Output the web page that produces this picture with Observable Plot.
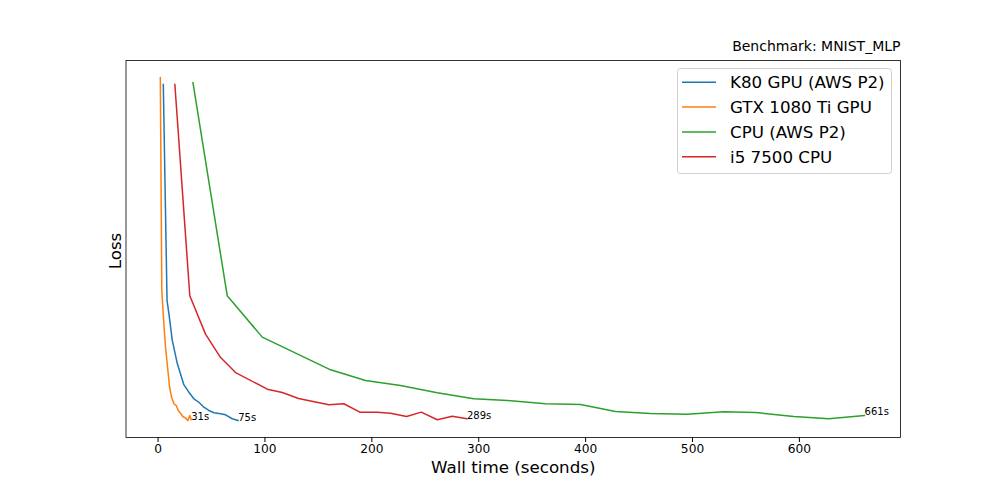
<!DOCTYPE html>
<html>
<head>
<meta charset="utf-8">
<script src="https://cdn.jsdelivr.net/npm/d3@7"></script>
<script src="https://cdn.jsdelivr.net/npm/@observablehq/plot@0.6"></script>
<style>
  html, body { margin: 0; padding: 0; background: #fff; }
  #wrap { position: relative; width: 1000px; height: 500px; font-family: "DejaVu Sans", sans-serif; }
  #legend { position: absolute; }
</style>
</head>
<body>
<div id="wrap"></div>
<script>
// ---- data ----
const title = "Benchmark: MNIST_MLP";
const xLabel = "Wall time (seconds)";
const yLabel = "Loss";
const seriesNames = ["K80 GPU (AWS P2)", "GTX 1080 Ti GPU", "CPU (AWS P2)", "i5 7500 CPU"];
const seriesColors = ["#1f77b4", "#ff7f0e", "#2ca02c", "#d62728"];
const endLabels = ["75s", "31s", "661s", "289s"];
const xTicks = [0, 100, 200, 300, 400, 500, 600];

const k80Time = [4.9, 8.4, 10.1, 13.3, 18.0, 24.1, 28.8, 33.5, 38.2, 42.8, 47.5, 52.2, 58.5, 63.1, 69.4, 75];
const k80Loss = [2.355, 0.913, 0.827, 0.647, 0.493, 0.352, 0.302, 0.258, 0.235, 0.202, 0.180, 0.165, 0.158, 0.151, 0.125, 0.113];

const gtxTime = [2.1, 3.5, 5.4, 7.0, 9.5, 10.8, 12.6, 14.8, 17.0, 18.9, 21.0, 23.2, 25.7, 27.9, 29.7, 31];
const gtxLoss = [2.400, 0.980, 0.760, 0.600, 0.425, 0.335, 0.269, 0.225, 0.213, 0.180, 0.162, 0.140, 0.129, 0.113, 0.147, 0.118];

const cpuTime = [32.6, 64.7, 97.5, 161.4, 194.1, 226.8, 261.2, 295.4, 326.7, 362.5, 395.2, 428.0, 460.7, 495.0, 529.3, 558.9, 594.8, 627.5, 661];
const cpuLoss = [2.367, 0.945, 0.669, 0.451, 0.380, 0.347, 0.298, 0.258, 0.247, 0.225, 0.220, 0.173, 0.160, 0.155, 0.171, 0.167, 0.140, 0.125, 0.147];

const i5Time = [15.7, 29.7, 44.4, 58.5, 72.5, 102.2, 116.2, 131.4, 159.8, 173.8, 188.8, 205.0, 217.5, 232.5, 246.2, 261.2, 275.2, 289];
const i5Loss = [2.355, 0.945, 0.689, 0.533, 0.433, 0.322, 0.300, 0.260, 0.218, 0.225, 0.169, 0.169, 0.162, 0.140, 0.169, 0.118, 0.142, 0.125];

// ---- build table ----
const seriesT = [k80Time, gtxTime, cpuTime, i5Time];
const seriesL = [k80Loss, gtxLoss, cpuLoss, i5Loss];
const rows = [];
const ends = [];
seriesNames.forEach((name, i) => {
  seriesT[i].forEach((t, j) => rows.push({series: name, t, loss: seriesL[i][j]}));
  const n = seriesT[i].length - 1;
  ends.push({series: name, t: seriesT[i][n], loss: seriesL[i][n], label: endLabels[i]});
});

const chart = Plot.plot({
  width: 1000,
  height: 500,
  marginLeft: 125.5,
  marginRight: 100,
  marginTop: 60,
  marginBottom: 63,
  style: {fontFamily: "DejaVu Sans, sans-serif", color: "black", background: "white"},
  x: {domain: [-30, 694.6], ticks: xTicks},
  y: {domain: [0, 2.513], axis: null},
  color: {domain: seriesNames, range: seriesColors},
  marks: [
    Plot.axisX({ticks: xTicks, tickSize: 5, tickPadding: 2, fontSize: 12.2, label: null, tickFormat: d => String(d)}),
    Plot.lineY(rows, {x: "t", y: "loss", z: "series", stroke: "series", strokeWidth: 1.5}),
    Plot.text(ends, {x: "t", y: "loss", text: "label", textAnchor: "start", lineAnchor: "bottom", fontSize: 10, fill: "black"}),
    Plot.frame({stroke: "black", strokeWidth: 0.8}),
    Plot.text([title], {frameAnchor: "top-right", lineAnchor: "bottom", textAnchor: "end", dy: -10, fontSize: 14, fill: "black"}),
    Plot.text([xLabel], {frameAnchor: "bottom", lineAnchor: "bottom", textAnchor: "middle", dy: 35, fontSize: 16.7, fill: "black"}),
    Plot.text([yLabel], {frameAnchor: "left", lineAnchor: "bottom", textAnchor: "middle", rotate: -90, dx: -5.5, dy: 2, fontSize: 16.7, fill: "black"})
  ]
});
document.getElementById("wrap").appendChild(chart);

// ---- legend overlay ----
const lg = d3.select("#wrap").append("div").attr("id", "legend")
  .style("left", "677px").style("top", "68px");
const lsvg = lg.append("svg").attr("width", 216).attr("height", 107);
lsvg.append("rect").attr("x", 0.5).attr("y", 0.5).attr("width", 214).attr("height", 105)
  .attr("rx", 3).attr("fill", "white").attr("fill-opacity", 0.8).attr("stroke", "#d0d0d0");
seriesNames.forEach((name, i) => {
  const cy = 14.3 + i * 24.8;
  lsvg.append("line").attr("x1", 5).attr("x2", 39).attr("y1", cy).attr("y2", cy)
    .attr("stroke", seriesColors[i]).attr("stroke-width", 1.5);
  lsvg.append("text").attr("x", 53).attr("y", cy).attr("dy", "0.36em")
    .attr("font-family", "DejaVu Sans, sans-serif").attr("font-size", 16.7).attr("fill", "black").text(name);
});
</script>
</body>
</html>
